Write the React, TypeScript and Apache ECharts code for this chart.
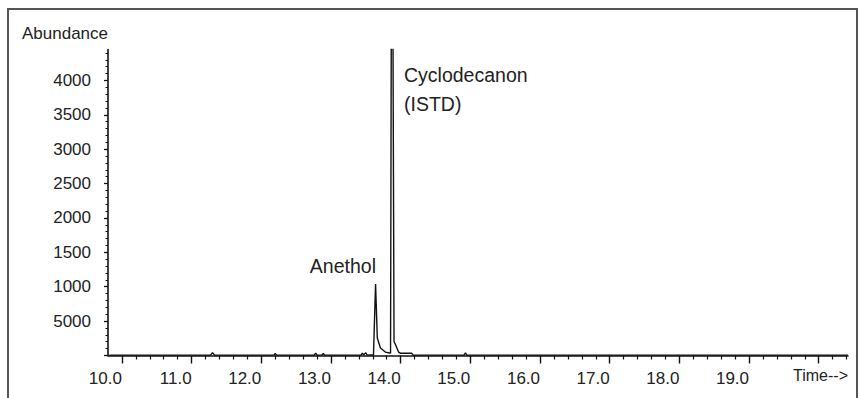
import React, { useEffect, useRef } from 'react';
import * as echarts from 'echarts';

// Retention time (min) and abundance
const times = [9.82, 11.27, 11.3, 11.33, 12.18, 12.2, 12.22, 12.76, 12.78, 12.8, 12.87, 12.89, 12.91, 13.43, 13.45, 13.47, 13.5, 13.52, 13.61, 13.64, 13.665, 13.71, 13.78, 13.84, 13.855, 13.875, 13.905, 13.93, 13.97, 14.0, 14.16, 14.18, 14.91, 14.93, 14.95, 20.42];
const abundance = [5, 5, 40, 5, 5, 30, 5, 5, 35, 5, 5, 30, 5, 5, 35, 10, 40, 5, 10, 1040, 254, 109, 50, 36, 36, 9000, 200, 150, 50, 32, 32, 5, 5, 40, 5, 5];

const xMajorTicks = [10, 11, 12, 13, 14, 15, 16, 17, 18, 19, 20];
const xLabelValues = [10, 11, 12, 13, 14, 15, 16, 17, 18, 19];
const yTickValues = [0, 500, 1000, 1500, 2000, 2500, 3000, 3500, 4000];
const yTickLabels = ['', '5000', '1000', '1500', '2000', '2500', '3000', '3500', '4000'];

const peakLabels = [
  { text: 'Anethol' },
  { text: 'Cyclodecanon\n(ISTD)' },
];

const X_MIN = 9.8;
const X_MAX = 20.42;
const Y_MAX = 4450;

const FONT = "'Liberation Sans', Arial, sans-serif";
const FS = 17;
const PEAK_FS = 19.5;
const TEXT_COLOR = '#222';

export default function App() {
  const ref = useRef<HTMLDivElement>(null);
  useEffect(() => {
    if (!ref.current) return;
    const chart = echarts.init(ref.current, null, { renderer: 'svg' });
    const xMinor: number[] = [];
    for (let v = 10; v < X_MAX; v += 0.2) {
      const r = Math.round(v * 10) / 10;
      if (Math.abs(r - Math.round(r)) > 0.01) xMinor.push(r);
    }
    const yMinor: number[] = [];
    for (let v = 100; v < Y_MAX; v += 100) {
      if (v % 500 !== 0) yMinor.push(v);
    }
    const data = times.map((t, i) => [t, abundance[i]]);
    chart.setOption({
      animation: false,
      grid: [
        { left: 108, right: 11, top: 49.5, bottom: 42.5 },
      ],
      xAxis: [
        {
          type: 'value', min: X_MIN, max: X_MAX, gridIndex: 0,
          splitLine: { show: false },
          axisLine: { show: true, onZero: false, lineStyle: { color: '#111', width: 1.6 } },
          axisTick: { show: true, length: 8, customValues: xMajorTicks, lineStyle: { color: '#111', width: 1.4 } },
          axisLabel: {
            customValues: xLabelValues,
            formatter: (v: number) => v.toFixed(1),
            align: 'right', margin: 14,
            fontFamily: FONT, fontSize: FS, color: TEXT_COLOR,
          },
        },
        {
          type: 'value', min: X_MIN, max: X_MAX, gridIndex: 0, position: 'bottom',
          splitLine: { show: false },
          axisLine: { show: false },
          axisTick: { show: true, length: 4, customValues: xMinor, lineStyle: { color: '#111', width: 1.2 } },
          axisLabel: { show: false },
        },
      ],
      yAxis: [
        {
          type: 'value', min: 0, max: Y_MAX, gridIndex: 0,
          splitLine: { show: false },
          axisLine: { show: true, onZero: false, lineStyle: { color: '#111', width: 1.6 } },
          axisTick: { show: true, length: 4, customValues: yTickValues, lineStyle: { color: '#111', width: 1.3 } },
          axisLabel: {
            customValues: yTickValues,
            formatter: (v: number) => {
              const i = yTickValues.indexOf(v);
              return i >= 0 ? yTickLabels[i] : '';
            },
            margin: 17,
            fontFamily: FONT, fontSize: FS, color: TEXT_COLOR,
          },
        },
        {
          type: 'value', min: 0, max: Y_MAX, gridIndex: 0, position: 'left',
          splitLine: { show: false },
          axisLine: { show: false },
          axisTick: { show: true, length: 2.5, customValues: yMinor, lineStyle: { color: '#111', width: 1 } },
          axisLabel: { show: false },
        },
      ],
      series: [
        {
          type: 'line',
          xAxisIndex: 0, yAxisIndex: 0,
          data,
          showSymbol: false,
          clip: true,
          lineStyle: { color: '#111', width: 1.4 },
        },
      ],
      graphic: [
        {
          type: 'rect', silent: true,
          shape: { x: 8, y: 9, width: 849, height: 410 },
          style: { fill: 'none', stroke: '#555', lineWidth: 2 },
        },
        {
          type: 'text', x: 22, y: 33,
          style: { text: 'Abundance', font: `${FS}px ${FONT}`, fill: TEXT_COLOR, align: 'left', verticalAlign: 'middle' },
        },
        {
          type: 'text', x: 848, y: 375,
          style: { text: 'Time-->', font: `16px ${FONT}`, fill: TEXT_COLOR, align: 'right', verticalAlign: 'middle' },
        },
        {
          type: 'text', x: 376, y: 266,
          style: { text: peakLabels[0].text, font: `${PEAK_FS}px ${FONT}`, fill: TEXT_COLOR, align: 'right', verticalAlign: 'middle' },
        },
        {
          type: 'text', x: 404, y: 60,
          style: { text: peakLabels[1].text, font: `${PEAK_FS}px ${FONT}`, fill: TEXT_COLOR, align: 'left', verticalAlign: 'top', lineHeight: 29 },
        },
      ],
    });
    return () => chart.dispose();
  }, []);
  return <div ref={ref} style={{ position: 'absolute', left: 0, top: 0, width: 859, height: 398 }} />;
}
